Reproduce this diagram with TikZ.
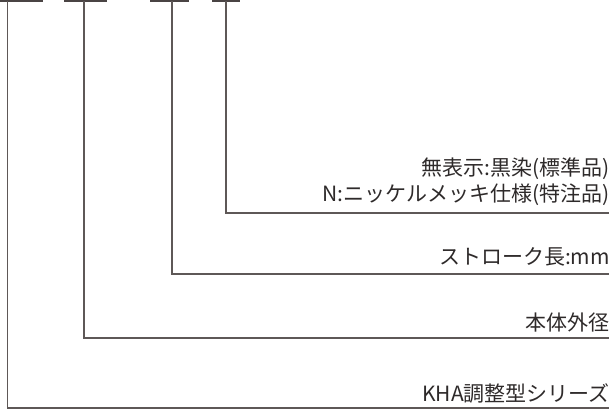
\documentclass[tikz,border=0pt]{standalone}
\usepackage{fontspec}
\setmainfont{Noto Sans CJK JP}
\definecolor{linec}{HTML}{4A4444}
\definecolor{vlinec}{HTML}{5E5857}
\definecolor{textc}{HTML}{2E2A2A}
\begin{document}
\begin{tikzpicture}[x=1pt,y=-1pt,
  bar/.style={draw=linec,line width=1.6pt},
  lead/.style={draw=vlinec,line width=1.3pt},
  label/.style={anchor=base east,inner sep=0pt,text=textc,font=\fontsize{21}{25}\selectfont}]
\useasboundingbox (0,0) rectangle (611,409);
% top bars
\coordinate (b1l) at (0,1);   \coordinate (b1r) at (43,1);
\coordinate (b2l) at (64,1);  \coordinate (b2r) at (107,1);
\coordinate (b3l) at (150,1); \coordinate (b3r) at (189,1);
\coordinate (b4l) at (212,1); \coordinate (b4r) at (240,1);
\draw[bar] (b1l) -- (b1r);
\draw[bar] (b2l) -- (b2r);
\draw[bar] (b3l) -- (b3r);
\draw[bar] (b4l) -- (b4r);
% bar tops of leaders
\coordinate (t1) at (7.5,1);
\coordinate (t2) at (84,1);
\coordinate (t3) at (172,1);
\coordinate (t4) at (226,1);
% right ends
\coordinate (e4) at (609,213);
\coordinate (e3) at (609,274);
\coordinate (e2) at (609,338);
\coordinate (e1) at (609,408);
\draw[lead] (t4) |- (e4);
\draw[lead] (t3) |- (e3);
\draw[lead] (t2) |- (e2);
\draw[lead] (t1) |- (e1);
% labels
\node[label] (l4a) at (610,176) {無表示:黒染(標準品)};
\node[label] (l4b) at (610,202) {N:ニッケルメッキ仕様(特注品)};
\node[label] (l3) at (610,265) {ストローク長:mm};
\node[label] (l2) at (610,330) {本体外径};
\node[label] (l1) at (610,401) {KHA調整型シリーズ};
\end{tikzpicture}
\end{document}
